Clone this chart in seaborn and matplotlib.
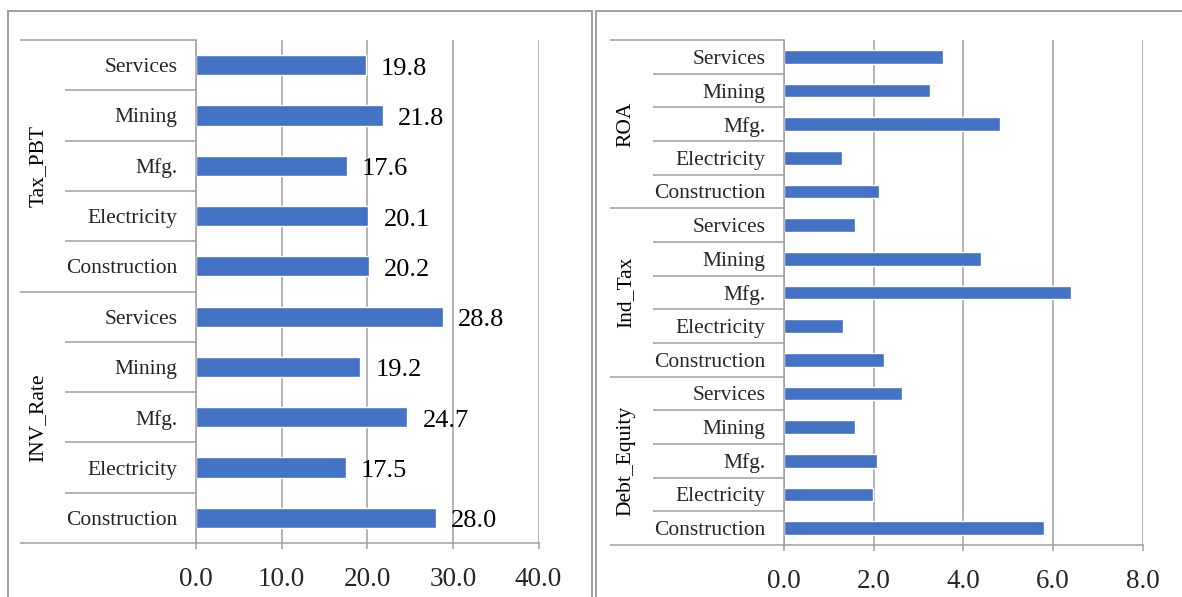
import matplotlib
matplotlib.use("Agg")
import matplotlib.pyplot as plt
from matplotlib.patches import Rectangle
import numpy as np
import pandas as pd
import seaborn as sns

# ---- data -------------------------------------------------------------
industries = ["Services", "Mining", "Mfg.", "Electricity", "Construction"]

left_groups = ["Tax_PBT", "INV_Rate"]
tax_pbt = [19.8, 21.8, 17.6, 20.1, 20.2]
inv_rate = [28.8, 19.2, 24.7, 17.5, 28.0]
left_ticks = [0, 10, 20, 30, 40]

right_groups = ["ROA", "Ind_Tax", "Debt_Equity"]
roa = [3.55, 3.25, 4.82, 1.29, 2.12]
ind_tax = [1.58, 4.39, 6.40, 1.32, 2.23]
debt_equity = [2.64, 1.58, 2.08, 1.99, 5.80]
right_ticks = [0, 2, 4, 6, 8]

BAR = "#4472C4"
GRID = "#A0A0A0"

sns.set_theme(style="white")
plt.rcParams["font.family"] = ["Liberation Serif", "DejaVu Serif"]
plt.rcParams["text.color"] = "black"

W, H = 1182, 597
fig = plt.figure(figsize=(W / 100, H / 100), dpi=100)


def frac(x0, y0, x1, y1):
    """pixel box (top-left origin) -> figure fraction rect"""
    return [x0 / W, 1 - y1 / H, (x1 - x0) / W, (y1 - y0) / H]


def build_frame(groups, series):
    rows = []
    for g, vals in zip(groups, series):
        for cat, v in zip(industries, vals):
            rows.append({"slot": f"{g}:{cat}", "group": g,
                         "industry": cat, "value": v})
    return pd.DataFrame(rows)


def draw_panel(ax, df, groups, ticks, x_cat, x_grp, x_grp_text, labels):
    order = list(df["slot"])
    sns.barplot(data=df, y="slot", x="value", order=order, orient="h",
                color=BAR, saturation=1, width=0.4, ax=ax)
    n = len(order)
    ax.set_xlim(ticks[0], ticks[-1])
    ax.set_ylim(n - 0.5, -0.5)
    ax.set_xticks(ticks)
    ax.set_xticklabels([f"{t:.1f}" for t in ticks], fontsize=19.5)
    ax.set_yticks(range(n))
    ax.set_yticklabels(df["industry"], fontsize=15.5)
    ax.set_xlabel("")
    ax.set_ylabel("")
    ax.grid(axis="x", color=GRID, linewidth=1.1)
    ax.grid(axis="y", visible=False)
    ax.set_axisbelow(True)
    for s in ("top", "right"):
        ax.spines[s].set_visible(False)
    for s in ("left", "bottom"):
        ax.spines[s].set_color(GRID)
        ax.spines[s].set_linewidth(1.1)
    ax.tick_params(axis="y", length=0, pad=13.5)
    ax.tick_params(axis="x", direction="out", length=4.5, width=1.1,
                   color=GRID, pad=12.5, bottom=True)

    # hierarchical category axis: separators and rotated group names
    tr = ax.get_yaxis_transform()
    per = len(industries)
    for i in range(n + 1):
        y = i - 0.5
        x_start = x_grp if i % per == 0 else x_cat
        ax.plot([x_start, 0], [y, y], transform=tr, color=GRID,
                linewidth=1.1, clip_on=False, solid_capstyle="butt")
    for k, g in enumerate(groups):
        yc = k * per + (per - 1) / 2
        ax.text(x_grp_text, yc, g, transform=tr, rotation=90,
                ha="center", va="center", fontsize=15.5)

    if labels:
        for cont in ax.containers:
            texts = ax.bar_label(cont, fmt="%.1f", padding=11, fontsize=19)
            for t in texts:
                t.xyann = (11, -2.5)


# ---- left panel --------------------------------------------------------
ax1 = fig.add_axes(frac(196, 40, 538.5, 543))
df1 = build_frame(left_groups, [tax_pbt, inv_rate])
w1 = 538.5 - 196
draw_panel(ax1, df1, left_groups, left_ticks,
           x_cat=(65 - 196) / w1, x_grp=(20 - 196) / w1,
           x_grp_text=(38 - 196) / w1, labels=True)

# ---- right panel -------------------------------------------------------
ax2 = fig.add_axes(frac(784, 40, 1142.7, 545))
df2 = build_frame(right_groups, [roa, ind_tax, debt_equity])
w2 = 1142.7 - 784
draw_panel(ax2, df2, right_groups, right_ticks,
           x_cat=(653 - 784) / w2, x_grp=(610 - 784) / w2,
           x_grp_text=(626 - 784) / w2, labels=False)

# ---- panel frames ------------------------------------------------------
for x0, x1 in [(8, 592), (596, 1195)]:
    fig.patches.append(Rectangle((x0 / W, -0.05), (x1 - x0) / W,
                                 1.05 - 11 / H, transform=fig.transFigure,
                                 fill=False, edgecolor=GRID, linewidth=1.4))

fig.savefig("out.png", dpi=100)
